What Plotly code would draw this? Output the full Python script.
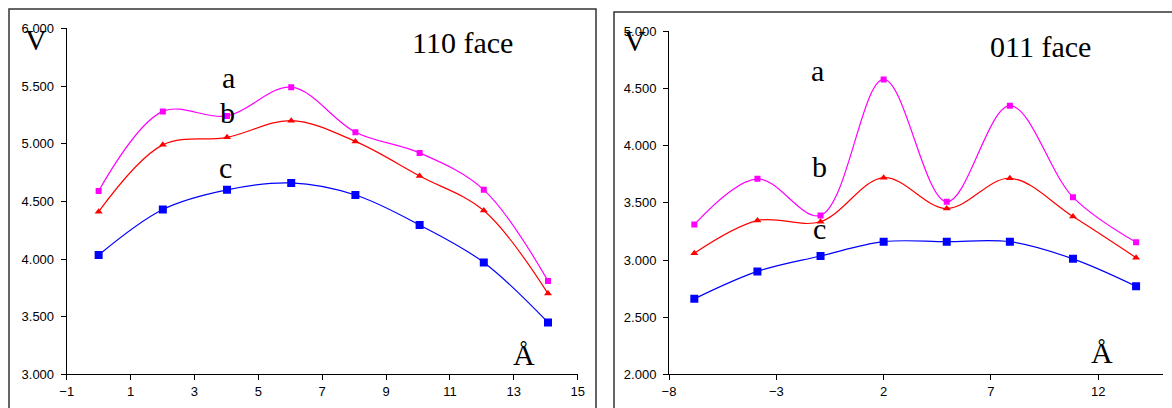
import plotly.graph_objects as go

W, H = 1172, 408

# ---- data: 110 face ----
x110 = [0.0, 2.01, 4.02, 6.03, 8.04, 10.05, 12.06, 14.07]
a110 = [4.59, 5.28, 5.24, 5.49, 5.10, 4.92, 4.60, 3.81]
b110 = [4.41, 4.99, 5.055, 5.20, 5.02, 4.72, 4.42, 3.70]
c110 = [4.035, 4.43, 4.60, 4.66, 4.555, 4.295, 3.97, 3.45]

# ---- data: 011 face ----
x011 = [-6.82, -3.88, -0.94, 2.0, 4.94, 7.88, 10.82, 13.76]
a011 = [3.31, 3.71, 3.39, 4.58, 3.51, 4.35, 3.55, 3.155]
b011 = [3.06, 3.345, 3.335, 3.72, 3.45, 3.715, 3.38, 3.02]
c011 = [2.66, 2.90, 3.035, 3.16, 3.16, 3.16, 3.01, 2.77]

titles = ["110 face", "011 face"]
series_labels = ["a", "b", "c"]


def px(x):
    return x / W


def py(y):
    return 1 - y / H


fig = go.Figure()

styles = [
    dict(color="#FF00FF", symbol="square", size=6),
    dict(color="#FF0000", symbol="triangle-up", size=7),
    dict(color="#0000FF", symbol="square", size=8),
]

for (xs, ys_list, xa, ya) in [
    (x110, [a110, b110, c110], "x", "y"),
    (x011, [a011, b011, c011], "x2", "y2"),
]:
    for ys, st, lab in zip(ys_list, styles, series_labels):
        fig.add_trace(go.Scatter(
            x=xs, y=ys, mode="lines+markers", name=lab,
            line=dict(color=st["color"], width=1.2, shape="spline", smoothing=1.0),
            marker=dict(color=st["color"], symbol=st["symbol"], size=st["size"],
                        line=dict(width=0)),
            xaxis=xa, yaxis=ya, showlegend=False,
        ))

tickfont = dict(family="Liberation Sans, Arial, sans-serif", size=13, color="#000")
axis_common = dict(showgrid=False, zeroline=False, showline=True, linecolor="#000",
                   linewidth=1, ticks="outside", ticklen=5, tickcolor="#000",
                   tickwidth=1, tickfont=tickfont, automargin=False)

fig.update_layout(
    template="none",
    width=W, height=H,
    margin=dict(l=0, r=0, t=0, b=0, pad=0),
    paper_bgcolor="white", plot_bgcolor="rgba(0,0,0,0)",
    xaxis=dict(domain=[px(66.7), px(577.7)], range=[-1, 15], tick0=-1, dtick=2,
               anchor="y", **axis_common),
    yaxis=dict(domain=[py(374.3), py(28.4)], range=[3, 6], dtick=0.5,
               tickformat=".3f", anchor="x", ticklabelstandoff=4, **axis_common),
    xaxis2=dict(domain=[px(669), px(1162.7)], range=[-8, 15], tick0=-8, dtick=5,
                anchor="y2", **axis_common),
    yaxis2=dict(domain=[py(374.3), py(31.4)], range=[2, 5], dtick=0.5,
                tickformat=".3f", anchor="x2", ticklabelstandoff=4, **axis_common),
)

# chart borders
fig.add_shape(type="rect", xref="paper", yref="paper",
              x0=px(9), x1=px(596), y0=py(420), y1=py(9),
              line=dict(color="#333", width=1.5), fillcolor="rgba(0,0,0,0)")
fig.add_shape(type="rect", xref="paper", yref="paper",
              x0=px(614), x1=px(1190), y0=py(420), y1=py(12),
              line=dict(color="#333", width=1.5), fillcolor="rgba(0,0,0,0)")

serif = "Liberation Serif, Times New Roman, serif"


def label(text, x, y, size=30):
    fig.add_annotation(text=text, xref="paper", yref="paper", x=px(x), y=py(y),
                       xanchor="center", yanchor="middle", showarrow=False,
                       font=dict(family=serif, size=size, color="#000"))


# left chart texts
label("V", 36, 40)
label(titles[0], 462, 43)
label("a", 228, 77)
label("b", 227, 112)
label("c", 225, 167)
label("Å", 524, 354)

# right chart texts
label("V", 635, 41)
label(titles[1], 1040, 46)
label("a", 817, 70)
label("b", 819, 166)
label("c", 819, 228)
label("Å", 1102, 352)

fig.write_html(
    "out.html",
    config={"displayModeBar": False},
    post_script="document.body.style.margin='0px';document.body.style.overflow='hidden';",
)
